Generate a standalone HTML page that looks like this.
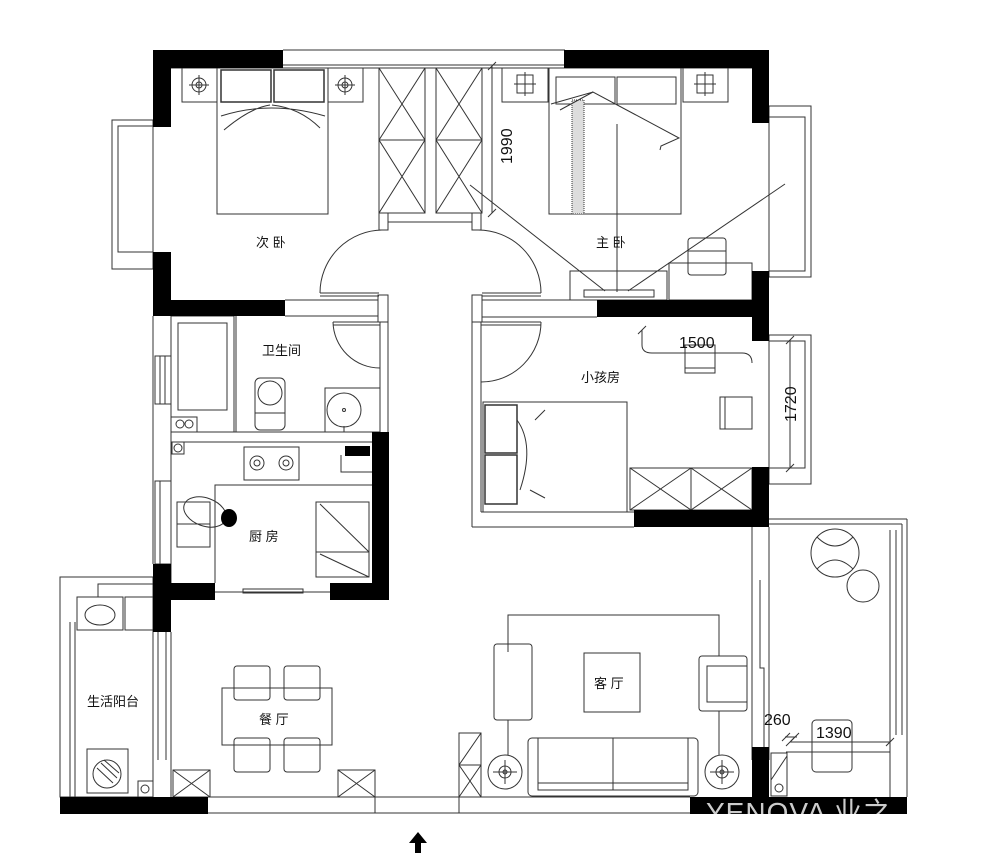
<!DOCTYPE html>
<html><head><meta charset="utf-8"><style>
html,body{margin:0;padding:0;background:#fff;}
svg{display:block}
text{font-family:"Liberation Sans","Noto Sans CJK SC",sans-serif;fill:#111}
</style></head><body>
<svg width="1000" height="853" viewBox="0 0 1000 853" xmlns="http://www.w3.org/2000/svg">
<defs><clipPath id="wm"><rect x="690" y="797" width="217" height="17"/></clipPath></defs>
<g fill="none" stroke="#333" stroke-width="1">
<line x1="283" y1="50" x2="565" y2="50"/><line x1="283" y1="65" x2="565" y2="65"/>
<line x1="171" y1="68" x2="752" y2="68"/>
<rect x="112" y="120" width="41" height="149"/><polyline points="153,126 118,126 118,252 153,252"/>
<line x1="153" y1="316" x2="153" y2="564"/><line x1="171" y1="316" x2="171" y2="583"/>
<rect x="155" y="356" width="16" height="48"/><line x1="160" y1="356" x2="160" y2="404"/><line x1="165" y1="356" x2="165" y2="404"/>
<rect x="155" y="481" width="16" height="83"/><line x1="160" y1="481" x2="160" y2="564"/>
<line x1="171" y1="432" x2="380" y2="432"/><line x1="171" y1="442" x2="372" y2="442"/>
<rect x="379" y="213" width="9" height="17"/><rect x="472" y="213" width="9" height="17"/>
<line x1="388" y1="222" x2="472" y2="222"/>
<rect x="378" y="295" width="10" height="27"/><rect x="472" y="295" width="10" height="27"/>
<line x1="380" y1="322" x2="380" y2="432"/><line x1="388" y1="322" x2="388" y2="432"/>
<line x1="472" y1="322" x2="472" y2="527"/><line x1="481" y1="322" x2="481" y2="512"/>
<line x1="285" y1="300" x2="378" y2="300"/><line x1="285" y1="316" x2="378" y2="316"/>
<line x1="482" y1="300" x2="597" y2="300"/><line x1="482" y1="317" x2="597" y2="317"/>
<line x1="472" y1="527" x2="634" y2="527"/><line x1="481" y1="512" x2="634" y2="512"/>
<rect x="769" y="106" width="42" height="171"/><polyline points="769,117 805,117 805,271 769,271"/>
<rect x="769" y="335" width="42" height="149"/><polyline points="769,341 805,341 805,468 769,468"/>
<path d="M320,293 A63,63 0 0 1 383,230"/><line x1="320" y1="293" x2="379" y2="293"/><line x1="320" y1="296" x2="379" y2="296"/>
<path d="M541,293 A63,63 0 0 0 478,230"/><line x1="482" y1="293" x2="541" y2="293"/><line x1="482" y1="296" x2="541" y2="296"/>
<path d="M333,322 A47,47 0 0 0 380,368"/><line x1="333" y1="322" x2="380" y2="322"/><line x1="333" y1="325" x2="380" y2="325"/>
<path d="M541,322 A60,60 0 0 1 481,382"/><line x1="481" y1="322" x2="541" y2="322"/><line x1="481" y1="325" x2="541" y2="325"/>
<rect x="182" y="68" width="35" height="34"/><rect x="328" y="68" width="35" height="34"/>
<circle cx="199" cy="85" r="7"/><circle cx="199" cy="85" r="3"/><line x1="189" y1="85" x2="209" y2="85"/><line x1="199" y1="75" x2="199" y2="95"/>
<circle cx="345" cy="85" r="7"/><circle cx="345" cy="85" r="3"/><line x1="335" y1="85" x2="355" y2="85"/><line x1="345" y1="75" x2="345" y2="95"/>
<rect x="217" y="68" width="111" height="146"/>
<rect x="221" y="70" width="50" height="32" stroke-width="1.5"/><rect x="274" y="70" width="50" height="32" stroke-width="1.5"/>
<path d="M221,116 Q270,100 325,116 M224,130 Q250,108 270,105 M320,128 Q300,108 272,105"/>
<rect x="379" y="68" width="46" height="145"/><rect x="436" y="68" width="46" height="145"/>
<line x1="379" y1="140" x2="425" y2="140"/><line x1="436" y1="140" x2="482" y2="140"/>
<path d="M379,68 L425,140 L379,213 M425,68 L379,140 L425,213 M436,68 L482,140 L436,213 M482,68 L436,140 L482,213"/>
<line x1="492" y1="66" x2="492" y2="213"/><line x1="488" y1="70" x2="496" y2="62"/><line x1="488" y1="217" x2="496" y2="209"/>
<rect x="502" y="68" width="46" height="34"/><rect x="683" y="68" width="45" height="34"/>
<rect x="517" y="75" width="16" height="18"/><line x1="525" y1="72" x2="525" y2="96"/><line x1="514" y1="84" x2="536" y2="84"/>
<rect x="697" y="75" width="16" height="18"/><line x1="705" y1="72" x2="705" y2="96"/><line x1="694" y1="84" x2="716" y2="84"/>
<rect x="549" y="68" width="132" height="146"/>
<rect x="556" y="77" width="59" height="27"/><rect x="617" y="77" width="59" height="27"/>
<rect x="572" y="100" width="12" height="114" fill="#ddd" stroke-dasharray="1,1"/>
<path d="M551,104 L593,92 L679,138 L661,146 L660,150 M593,92 L560,110"/>
<line x1="617" y1="124" x2="617" y2="292"/>
<line x1="470" y1="185" x2="605" y2="291"/><line x1="785" y1="184" x2="628" y2="291"/>
<rect x="570" y="271" width="97" height="29"/><rect x="584" y="290" width="70" height="7"/>
<rect x="669" y="263" width="83" height="37"/>
<rect x="688" y="238" width="38" height="37" rx="3"/><line x1="688" y1="251" x2="726" y2="251"/>
<path d="M642,330 L642,345 Q642,353 652,353 L742,353 Q752,353 752,363"/>
<line x1="638" y1="334" x2="646" y2="326"/>
<rect x="685" y="345" width="30" height="28"/><line x1="685" y1="368" x2="715" y2="368"/>
<rect x="720" y="397" width="32" height="32"/><line x1="725" y1="397" x2="725" y2="429"/>
<line x1="790" y1="340" x2="790" y2="468"/><line x1="786" y1="344" x2="794" y2="336"/><line x1="786" y1="472" x2="794" y2="464"/>
<rect x="483" y="402" width="144" height="110"/>
<rect x="485" y="405" width="32" height="48" stroke-width="1.5"/><rect x="485" y="455" width="32" height="49" stroke-width="1.5"/>
<path d="M517,420 Q535,445 520,490 M545,410 L535,420 M545,498 L530,490"/>
<rect x="630" y="468" width="122" height="42"/><line x1="691" y1="468" x2="691" y2="510"/>
<path d="M630,468 L691,510 M691,468 L630,510 M691,468 L752,510 M752,468 L691,510"/>
<rect x="171" y="316" width="63" height="116"/><line x1="236" y1="316" x2="236" y2="432"/>
<rect x="178" y="323" width="49" height="87"/><rect x="171" y="417" width="26" height="15"/>
<circle cx="180" cy="424" r="4"/><circle cx="189" cy="424" r="4"/>
<rect x="255" y="378" width="30" height="52" rx="5"/><circle cx="270" cy="393" r="12"/><line x1="255" y1="413" x2="285" y2="413"/>
<rect x="325" y="388" width="55" height="44"/><circle cx="344" cy="410" r="17"/><circle cx="344" cy="410" r="1.5"/><line x1="344" y1="426" x2="344" y2="432"/>
<rect x="172" y="442" width="12" height="12"/><circle cx="178" cy="448" r="4"/>
<rect x="244" y="447" width="55" height="33"/>
<circle cx="257" cy="463" r="7"/><circle cx="257" cy="463" r="3"/><circle cx="286" cy="463" r="7"/><circle cx="286" cy="463" r="3"/>
<path d="M341,455 L341,472 L372,472"/>
<polyline points="215,583 215,485 372,485"/>
<rect x="177" y="502" width="33" height="45"/><line x1="177" y1="524" x2="210" y2="524"/>
<rect x="316" y="502" width="53" height="75"/><line x1="316" y1="552" x2="369" y2="552"/><line x1="320" y1="504" x2="369" y2="552"/><line x1="320" y1="554" x2="369" y2="577"/>
<ellipse cx="205" cy="512" rx="22" ry="14" transform="rotate(20 205 512)"/>
<line x1="215" y1="592" x2="330" y2="592"/><rect x="243" y="589" width="60" height="4"/>
<rect x="60" y="577" width="93" height="220"/>
<polyline points="153,584 98,584 98,597"/>
<line x1="70" y1="622" x2="70" y2="797"/><line x1="75" y1="622" x2="75" y2="797"/>
<rect x="77" y="597" width="46" height="33"/><ellipse cx="100" cy="615" rx="15" ry="10"/>
<rect x="125" y="597" width="28" height="33"/>
<rect x="87" y="749" width="41" height="44"/><circle cx="107" cy="774" r="14"/>
<path d="M97,768 L113,783 M101,763 L117,778 M104,760 L119,773"/>
<rect x="138" y="781" width="15" height="16"/><circle cx="145" cy="789" r="4"/>
<line x1="153" y1="632" x2="153" y2="797"/><line x1="171" y1="632" x2="171" y2="797"/>
<line x1="158" y1="632" x2="158" y2="760"/><line x1="166" y1="632" x2="166" y2="760"/>
<rect x="222" y="688" width="110" height="57"/>
<rect x="234" y="666" width="36" height="34" rx="3"/><rect x="284" y="666" width="36" height="34" rx="3"/>
<rect x="234" y="738" width="36" height="34" rx="3"/><rect x="284" y="738" width="36" height="34" rx="3"/>
<rect x="173" y="770" width="37" height="27"/><path d="M173,770 L210,797 M173,797 L210,770"/>
<rect x="338" y="770" width="37" height="27"/><path d="M338,770 L375,797 M338,797 L375,770"/>
<line x1="208" y1="797" x2="690" y2="797"/><line x1="208" y1="813" x2="690" y2="813"/>
<line x1="375" y1="797" x2="375" y2="813"/><line x1="459" y1="797" x2="459" y2="813"/>
<polyline points="508,652 508,615 719,615 719,656"/>
<line x1="508" y1="720" x2="508" y2="755"/><line x1="719" y1="711" x2="719" y2="755"/>
<rect x="494" y="644" width="38" height="76" rx="3"/>
<rect x="584" y="653" width="56" height="59"/>
<rect x="699" y="656" width="48" height="55" rx="3"/><polyline points="747,666 707,666 707,702 747,702"/>
<rect x="528" y="738" width="170" height="58" rx="4"/><rect x="538" y="738" width="150" height="52"/>
<line x1="613" y1="738" x2="613" y2="790"/><line x1="538" y1="783" x2="688" y2="783"/>
<circle cx="505" cy="772" r="17"/><circle cx="505" cy="772" r="6"/><circle cx="505" cy="772" r="2"/><line x1="493" y1="772" x2="517" y2="772"/><line x1="505" y1="760" x2="505" y2="784"/>
<circle cx="722" cy="772" r="17"/><circle cx="722" cy="772" r="6"/><circle cx="722" cy="772" r="2"/><line x1="710" y1="772" x2="734" y2="772"/><line x1="722" y1="760" x2="722" y2="784"/>
<rect x="459" y="733" width="22" height="64"/><line x1="459" y1="765" x2="481" y2="765"/>
<path d="M459,765 L481,733 M459,797 L481,765 M459,765 L481,797"/>
<line x1="752" y1="527" x2="752" y2="760"/><line x1="769" y1="527" x2="769" y2="760"/>
<polyline points="760,580 760,668 764,668 764,760"/>
<line x1="769" y1="519" x2="907" y2="519"/><line x1="769" y1="524" x2="902" y2="524"/>
<line x1="907" y1="519" x2="907" y2="797"/><line x1="902" y1="524" x2="902" y2="735"/>
<line x1="890" y1="530" x2="890" y2="797"/><line x1="896" y1="530" x2="896" y2="735"/>
<circle cx="835" cy="553" r="24"/><path d="M817,537 Q835,555 853,537 M817,569 Q835,551 853,569"/>
<circle cx="863" cy="586" r="16"/>
<line x1="785" y1="737" x2="797" y2="737"/><line x1="782" y1="741" x2="790" y2="733"/><line x1="791" y1="741" x2="799" y2="733"/>
<line x1="790" y1="742" x2="890" y2="742"/><line x1="786" y1="746" x2="794" y2="738"/><line x1="886" y1="746" x2="894" y2="738"/>
<line x1="786" y1="752" x2="890" y2="752"/>
<rect x="812" y="720" width="40" height="52" rx="4"/>
<rect x="771" y="753" width="16" height="43"/><line x1="771" y1="780" x2="787" y2="756"/><circle cx="779" cy="788" r="4"/>
</g>
<g fill="#000">
<rect x="153" y="50" width="130" height="18"/>
<rect x="153" y="50" width="18" height="77"/>
<rect x="153" y="252" width="18" height="64"/>
<rect x="153" y="300" width="132" height="16"/>
<rect x="564" y="50" width="205" height="18"/>
<rect x="752" y="50" width="17" height="73"/>
<rect x="752" y="271" width="17" height="70"/>
<rect x="597" y="300" width="172" height="17"/>
<rect x="752" y="467" width="17" height="60"/>
<rect x="634" y="510" width="135" height="17"/>
<rect x="372" y="432" width="17" height="168"/>
<rect x="330" y="583" width="59" height="17"/>
<rect x="171" y="583" width="44" height="17"/>
<rect x="153" y="564" width="18" height="68"/>
<rect x="60" y="797" width="148" height="17"/>
<rect x="752" y="747" width="17" height="50"/>
<rect x="690" y="797" width="217" height="17"/>
<path d="M345,446 L370,446 L370,456 L345,456 Z"/>
<ellipse cx="229" cy="518" rx="8" ry="9"/>
</g>
<text x="706" y="822" font-size="28" style="fill:#ccc" clip-path="url(#wm)" letter-spacing="1">YENOVA 业之</text>
<g font-size="13">
<text x="256" y="247">次 卧</text>
<text x="596" y="247">主 卧</text>
<text x="262" y="355">卫生间</text>
<text x="581" y="382">小孩房</text>
<text x="249" y="541">厨 房</text>
<text x="87" y="706">生活阳台</text>
<text x="259" y="724">餐 厅</text>
<text x="594" y="688">客 厅</text>
</g>
<g font-size="16">
<text x="0" y="0" transform="translate(512,164) rotate(-90)">1990</text>
<text x="0" y="0" transform="translate(796,422) rotate(-90)">1720</text>
<text x="679" y="348">1500</text>
<text x="764" y="725">260</text>
<text x="816" y="738">1390</text>
</g>
<path d="M418,832 L409,843 L415,843 L415,853 L421,853 L421,843 L427,843 Z" fill="#000"/>
</svg>
</body></html>
